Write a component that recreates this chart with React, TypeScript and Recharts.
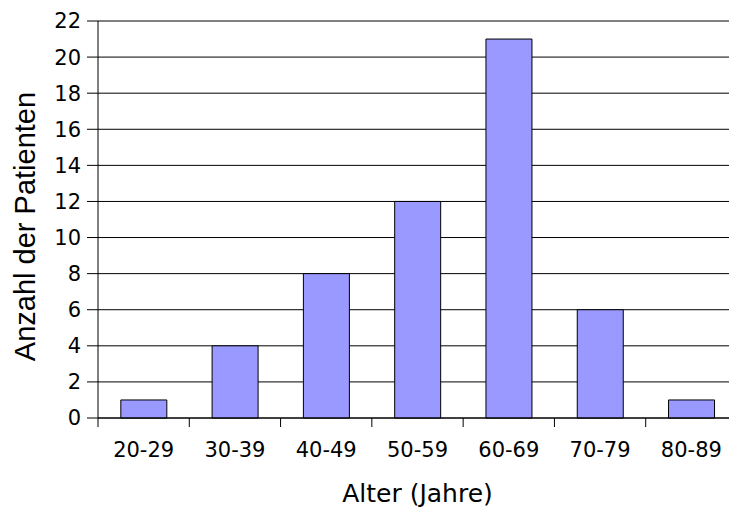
import { BarChart, Bar, XAxis, YAxis, CartesianGrid, Label } from 'recharts'

const ageGroups = ['20-29', '30-39', '40-49', '50-59', '60-69', '70-79', '80-89']
const patientCounts = [1, 4, 8, 12, 21, 6, 1]
const yTicks = [0, 2, 4, 6, 8, 10, 12, 14, 16, 18, 20, 22]

const chartData = ageGroups.map((g, i) => ({ group: g, count: patientCounts[i] }))

const FONT = 'DejaVu Sans, sans-serif'
const tickFont = { fill: '#000', fontSize: 21, fontFamily: FONT }

// category label plus a tick mark on the left edge of each band
function GroupTick(props: any) {
  const { x, y, payload, index, visibleTicksCount } = props
  const half = payload?.offset ?? 0
  return (
    <g>
      <line x1={x - half} x2={x - half} y1={y} y2={y + 9} stroke="#000" />
      {index === visibleTicksCount - 1 && (
        <line x1={x + half} x2={x + half} y1={y} y2={y + 9} stroke="#000" />
      )}
      <text x={x} y={y + 24} dy="0.71em" textAnchor="middle" fill="#000" fontSize={21} fontFamily={FONT}>
        {payload.value}
      </text>
    </g>
  )
}

function YTitle(props: any) {
  const { viewBox } = props
  const cx = viewBox.x + 25
  const cy = viewBox.y + viewBox.height / 2 + 7
  return (
    <text
      x={cx}
      y={cy}
      transform={`rotate(-90, ${cx}, ${cy})`}
      dy="0.355em"
      textAnchor="middle"
      fill="#000"
      fontSize={29}
      fontFamily="Liberation Sans, Arial, sans-serif"
    >
      Anzahl der Patienten
    </text>
  )
}

export default function App() {
  return (
    <div style={{ position: 'absolute', left: 0, top: 0, width: 729, height: 507, overflow: 'hidden', background: '#fff' }}>
      <BarChart
        width={745}
        height={507}
        data={chartData}
        margin={{ top: 21, right: 8, left: 0, bottom: 0 }}
        barCategoryGap="25%"
      >
        <CartesianGrid vertical={false} stroke="#000" strokeWidth={1} />
        <XAxis
          dataKey="group"
          tick={<GroupTick />}
          tickLine={false}
          tickSize={0}
          tickMargin={0}
          interval={0}
          axisLine={{ stroke: '#000' }}
          height={89}
        >
          <Label
            value="Alter (Jahre)"
            position="insideBottom"
            offset={5}
            style={{ fill: '#000', fontSize: 25, fontFamily: FONT }}
          />
        </XAxis>
        <YAxis
          domain={[0, 22]}
          ticks={yTicks}
          interval={0}
          width={98}
          tick={tickFont}
          tickSize={11}
          tickMargin={6}
          tickLine={{ stroke: '#000' }}
          axisLine={{ stroke: '#000' }}
        >
          <Label content={<YTitle />} />
        </YAxis>
        <Bar dataKey="count" fill="#9999ff" stroke="#000" strokeWidth={1} isAnimationActive={false} />
      </BarChart>
    </div>
  )
}
